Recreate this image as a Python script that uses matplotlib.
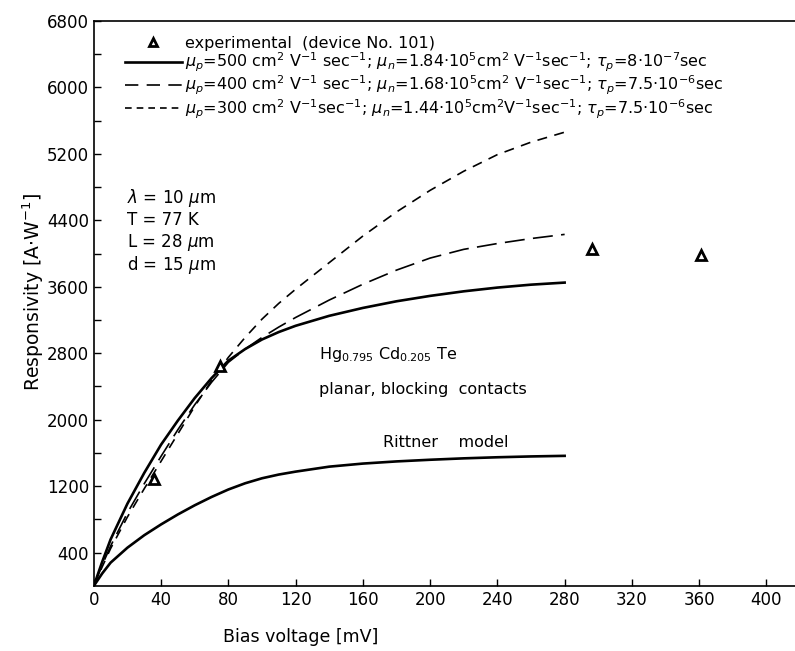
import numpy as np
import matplotlib
matplotlib.use("Agg")
import matplotlib.pyplot as plt
from matplotlib.lines import Line2D

# Bias voltage [mV] sampled along the curves
bias = [0, 5, 10, 20, 30, 40, 50, 60, 70, 80, 90, 100, 110, 120, 140, 160, 180, 200, 220, 240, 260, 280]

# Responsivity [A/W]
resp_mu500 = [0, 290, 560, 990, 1360, 1700, 1990, 2260, 2500, 2710, 2850, 2965, 3055, 3130, 3250,
              3345, 3425, 3490, 3545, 3590, 3625, 3650]
resp_mu400 = [0, 250, 480, 880, 1230, 1560, 1880, 2180, 2450, 2690, 2850, 2990, 3115, 3230, 3440,
              3630, 3800, 3945, 4050, 4120, 4180, 4230]
resp_mu300 = [0, 230, 450, 830, 1170, 1500, 1830, 2160, 2470, 2750, 2990, 3210, 3400, 3570, 3890,
              4210, 4500, 4760, 4990, 5190, 5340, 5460]
resp_rittner = [0, 150, 280, 460, 610, 740, 860, 970, 1070, 1160, 1235, 1295, 1340, 1375, 1435,
                1472, 1498, 1518, 1535, 1548, 1558, 1565]

# experimental points, device No. 101
exp_bias = [36, 75, 296, 361]
exp_resp = [1290, 2650, 4060, 3980]

xticks = list(range(0, 401, 40))
yticks_major = list(range(400, 6801, 800))
yticks_minor = list(range(800, 6801, 800))

legend_labels = [
    "experimental  (device No. 101)",
    r"$\mu_p$=500 cm$^2$ V$^{-1}$ sec$^{-1}$; $\mu_n$=1.84$\cdot$10$^5$cm$^2$ V$^{-1}$sec$^{-1}$; $\tau_p$=8$\cdot$10$^{-7}$sec",
    r"$\mu_p$=400 cm$^2$ V$^{-1}$ sec$^{-1}$; $\mu_n$=1.68$\cdot$10$^5$cm$^2$ V$^{-1}$sec$^{-1}$; $\tau_p$=7.5$\cdot$10$^{-6}$sec",
    r"$\mu_p$=300 cm$^2$ V$^{-1}$sec$^{-1}$; $\mu_n$=1.44$\cdot$10$^5$cm$^2$V$^{-1}$sec$^{-1}$; $\tau_p$=7.5$\cdot$10$^{-6}$sec",
]

fig = plt.figure(figsize=(7.95, 6.51), dpi=100)
ax = fig.add_axes([0.118, 0.1, 0.882, 0.868])

ax.plot(bias, resp_mu500, color="black", lw=1.9)
ax.plot(bias, resp_mu400, color="black", lw=1.2, linestyle=(0, (12, 5)))
ax.plot(bias, resp_mu300, color="black", lw=1.2, linestyle=(0, (6, 4.5)))
ax.plot(bias, resp_rittner, color="black", lw=1.9)
ax.plot(exp_bias, exp_resp, linestyle="none", marker="^", ms=7,
        mfc="white", mec="black", mew=2)

ax.set_xlim(0, 417)
ax.set_ylim(0, 6800)
ax.set_xticks(xticks)
ax.set_yticks(yticks_major)
ax.set_yticks(yticks_minor, minor=True)
ax.tick_params(which="both", direction="in", length=5, width=1, labelsize=12)
ax.spines["right"].set_visible(False)
for s in ["left", "bottom", "top"]:
    ax.spines[s].set_linewidth(1.2)

ax.set_ylabel(r"Responsivity [A$\cdot$W$^{-1}$]", fontsize=13.5)
ax.yaxis.set_label_coords(-0.068, 0.52)
ax.set_xlabel("Bias voltage [mV]", fontsize=12.5)
ax.xaxis.set_label_coords(0.295, -0.075)

handles = [
    Line2D([], [], linestyle="none", marker="^", ms=6, mfc="white", mec="black", mew=2),
    Line2D([], [], color="black", lw=1.9),
    Line2D([], [], color="black", lw=1.2, linestyle=(0, (8, 5))),
    Line2D([], [], color="black", lw=1.2, linestyle=(0, (4, 3))),
]
ax.legend(handles, legend_labels, loc="upper left", bbox_to_anchor=(0.035, 0.985),
          frameon=False, fontsize=11.5, handlelength=3.6, handletextpad=0.2,
          labelspacing=0.0, borderaxespad=0)

ax.text(20, 4670, r"$\lambda$ = 10 $\mu$m", fontsize=12, va="center")
ax.text(20, 4400, "T = 77 K", fontsize=12, va="center")
ax.text(20, 4130, r"L = 28 $\mu$m", fontsize=12, va="center")
ax.text(20, 3865, r"d = 15 $\mu$m", fontsize=12, va="center")

ax.text(134, 2780, r"Hg$_{0.795}$ Cd$_{0.205}$ Te", fontsize=11.5, va="center")
ax.text(134, 2360, "planar, blocking  contacts", fontsize=11.5, va="center")
ax.text(172, 1730, "Rittner    model", fontsize=11.5, va="center")

fig.savefig("out.png", dpi=100)
